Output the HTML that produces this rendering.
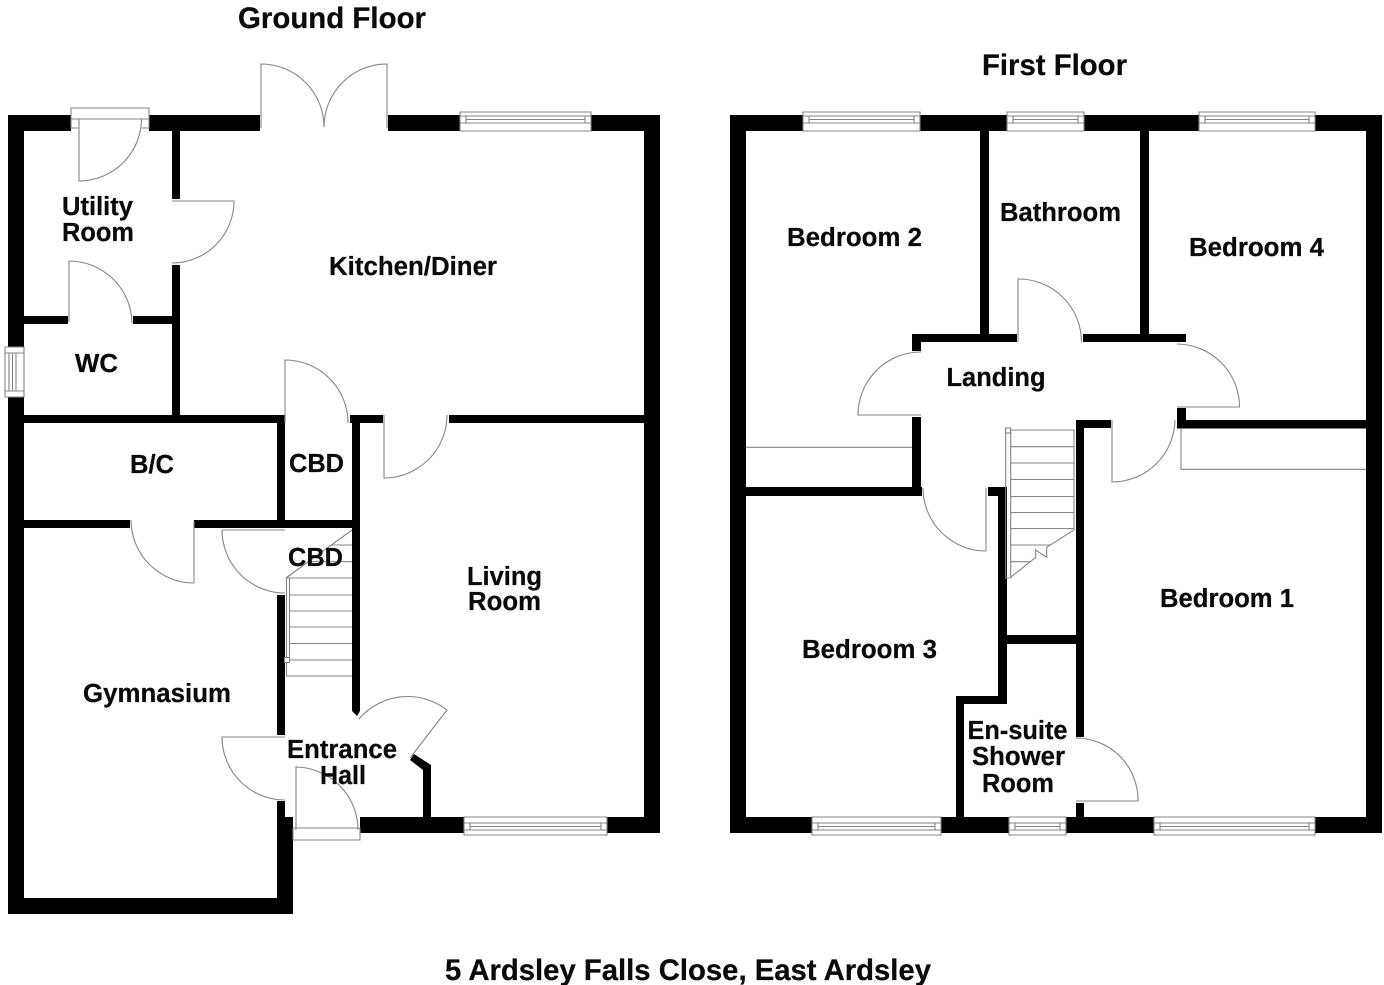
<!DOCTYPE html>
<html><head><meta charset="utf-8"><title>Floor plan</title>
<style>html,body{margin:0;padding:0;background:#fff}svg{display:block}
text{font-family:"Liberation Sans",Arial,sans-serif;font-weight:bold;fill:#0a0a0a;font-size:25.5px;stroke:#0a0a0a;stroke-width:.25}
.t{font-size:29.5px}
.l{fill:none;stroke:#858585;stroke-width:1.1}
</style></head><body>
<svg width="1384" height="985" viewBox="0 0 1384 985" xmlns="http://www.w3.org/2000/svg">
<g fill="#000">
<!-- Ground floor walls -->
<rect x="8" y="115" width="16" height="232"/>
<rect x="8" y="397" width="16" height="517"/>
<rect x="8" y="115" width="63" height="16"/>
<rect x="149" y="115" width="111" height="16"/>
<rect x="388" y="115" width="72" height="16"/>
<rect x="591" y="115" width="69" height="16"/>
<rect x="644" y="115" width="16" height="718"/>
<rect x="607" y="817" width="53" height="16"/>
<rect x="360" y="817" width="104" height="16"/>
<rect x="8" y="898" width="285" height="16"/>
<rect x="285" y="817" width="8" height="97"/>
<rect x="277" y="801" width="8" height="113"/>
<rect x="172" y="131" width="8" height="68"/>
<rect x="172" y="265" width="8" height="158"/>
<rect x="24" y="316" width="44" height="8"/>
<rect x="133" y="316" width="39" height="8"/>
<rect x="24" y="415" width="260" height="8"/>
<rect x="277" y="415" width="8" height="113"/>
<rect x="24" y="520" width="106" height="8"/>
<rect x="194" y="520" width="166" height="8"/>
<rect x="277" y="595" width="8" height="140"/>
<rect x="350" y="415" width="33" height="8"/>
<rect x="449" y="415" width="195" height="8"/>
<polygon points="352,415 360,415 360,711 357,716 352,711"/>
<polygon points="431,817 431,765 414,754 410,760 423,770 423,817"/>
<!-- First floor walls -->
<rect x="730" y="115" width="16" height="718"/>
<rect x="730" y="115" width="73" height="16"/>
<rect x="920" y="115" width="87" height="16"/>
<rect x="1084" y="115" width="115" height="16"/>
<rect x="1315" y="115" width="67" height="16"/>
<rect x="1366" y="115" width="16" height="718"/>
<rect x="730" y="817" width="82" height="16"/>
<rect x="941" y="817" width="68" height="16"/>
<rect x="1066" y="817" width="88" height="16"/>
<rect x="1315" y="817" width="67" height="16"/>
<rect x="980" y="131" width="9" height="204"/>
<rect x="1140" y="131" width="9" height="204"/>
<rect x="912" y="334" width="105" height="8"/>
<rect x="1083" y="334" width="103" height="8"/>
<rect x="912" y="334" width="9" height="17"/>
<rect x="912" y="417" width="9" height="79"/>
<rect x="746" y="487" width="176" height="9"/>
<rect x="988" y="487" width="18" height="9"/>
<rect x="998" y="487" width="9" height="217"/>
<rect x="956" y="696" width="51" height="8"/>
<rect x="956" y="696" width="8" height="121"/>
<rect x="1006" y="635" width="70" height="9"/>
<rect x="1076" y="420" width="8" height="317"/>
<rect x="1076" y="803" width="8" height="14"/>
<rect x="1076" y="420" width="35" height="8"/>
<rect x="1177" y="408" width="9" height="20"/>
<rect x="1177" y="420" width="189" height="8.5"/>
</g>
<g class="l">
<!-- Ground floor windows -->
<path d="M460 112H591V131H460Z M466 116H585V123H466Z M466 119.5H585 M460 116H466 M585 116H591 M460 123H466 M585 123H591"/>
<path d="M464 835H607V817H464Z M470 830H601V823H470Z M470 826.5H601 M464 830H470 M601 830H607 M464 823H470 M601 823H607"/>
<path d="M5 347V397H24V347Z M9 353V391H16V353Z M12.500 353V391 M5 353H9 M5 391H9 M16 353H24 M16 391H24"/>
<!-- Ground doors -->
<path d="M71 108H149V119H71Z M71 119V128H79 M149 119V128H142"/>
<path d="M79 119V181A62.500 62.500 0 0 0 141.500 119"/>
<path d="M261 128V64A63 63 0 0 1 324 127"/>
<path d="M387 128V64A63 63 0 0 0 324 127"/>
<path d="M172 201H234A62 62 0 0 1 172 263"/>
<path d="M69 322V261A63 63 0 0 1 132 323"/>
<path d="M285 423V360A63 63 0 0 1 348 423"/>
<path d="M384 415V478A63 63 0 0 0 447 415"/>
<path d="M194 521V583A63 63 0 0 1 131 520"/>
<path d="M285 530H222A63 63 0 0 0 285 593"/>
<path d="M285 737H222A63 63 0 0 0 285 800"/>
<path d="M296 830V767A63 63 0 0 1 358 830"/>
<path d="M293 828H360V840H293Z"/>
<path d="M410 758L447 710A64 64 0 0 0 359 719"/>
<!-- Ground stairs -->
<path d="M286.500 578V676H352 M289.500 578V660 M286 578L352 530 M286 578H352 M289 595H352 M289 611H352 M289 627H352 M289 643.500H352 M289 660H352 M331 545H352 M309 561.700H352"/>
<rect x="284.500" y="657.500" width="5" height="5" fill="#fff"/>
<!-- First floor windows -->
<path d="M803 112H920V131H803Z M809 116H914V123H809Z M809 119.500H914 M803 116H809 M914 116H920 M803 123H809 M914 123H920"/>
<path d="M1007 112H1084V131H1007Z M1013 116H1078V123H1013Z M1013 119.500H1078 M1007 116H1013 M1078 116H1084 M1007 123H1013 M1078 123H1084"/>
<path d="M1199 112H1315V131H1199Z M1205 116H1309V123H1205Z M1205 119.500H1309 M1199 116H1205 M1309 116H1315 M1199 123H1205 M1309 123H1315"/>
<path d="M812 835H941V817H812Z M818 830H935V823H818Z M818 826.500H935 M812 830H818 M935 830H941 M812 823H818 M935 823H941"/>
<path d="M1009 835H1066V817H1009Z M1015 830H1060V823H1015Z M1015 826.500H1060 M1009 830H1015 M1060 830H1066 M1009 823H1015 M1060 823H1066"/>
<path d="M1154 835H1315V817H1154Z M1160 830H1309V823H1160Z M1160 826.500H1309 M1154 830H1160 M1309 830H1315 M1154 823H1160 M1309 823H1315"/>
<!-- First floor doors -->
<path d="M1018 342V279A63 63 0 0 1 1081.500 342"/>
<path d="M921 415H858A63 63 0 0 1 921 352"/>
<path d="M1177 407H1239.500A63 63 0 0 0 1177 344"/>
<path d="M1112 420V482A63 63 0 0 0 1175 420"/>
<path d="M986 488V551A63 63 0 0 1 923 488"/>
<path d="M1076 801H1138A62 62 0 0 0 1076 738"/>
<!-- Cupboards -->
<path d="M746 447.300H912"/>
<path d="M1181 428V469.300H1366"/>
<!-- First stairs -->
<path d="M1005.700 430V578H1010.700V430 M1005.700 430H1074V530L1046.700 547.300V557.300L1035.700 550V557.300L1010.700 577.300 M1010.700 446.700H1074 M1010.700 463H1074 M1010.700 479.500H1074 M1010.700 496.500H1074 M1010.700 512.500H1074 M1010.700 528.500H1074 M1010.700 545H1051 M1010.700 561.700H1031"/>
<rect x="1005.500" y="428" width="5" height="5" fill="#fff"/>
</g>
<!-- Titles -->
<text class="t" x="238" y="28" textLength="188" lengthAdjust="spacingAndGlyphs">Ground Floor</text>
<text class="t" x="982" y="75" textLength="145" lengthAdjust="spacingAndGlyphs">First Floor</text>
<text class="t" x="445" y="980" textLength="486" lengthAdjust="spacingAndGlyphs">5 Ardsley Falls Close, East Ardsley</text>
<!-- Ground labels -->
<text x="62" y="215" textLength="71" lengthAdjust="spacingAndGlyphs">Utility</text>
<text x="62" y="241" textLength="72" lengthAdjust="spacingAndGlyphs">Room</text>
<text x="75" y="372" textLength="43" lengthAdjust="spacingAndGlyphs">WC</text>
<text x="329" y="275" textLength="168" lengthAdjust="spacingAndGlyphs">Kitchen/Diner</text>
<text x="130" y="473" textLength="44" lengthAdjust="spacingAndGlyphs">B/C</text>
<text x="289" y="472" textLength="55" lengthAdjust="spacingAndGlyphs">CBD</text>
<text x="288" y="566" textLength="55" lengthAdjust="spacingAndGlyphs">CBD</text>
<text x="467" y="585" textLength="75" lengthAdjust="spacingAndGlyphs">Living</text>
<text x="468" y="610" textLength="73" lengthAdjust="spacingAndGlyphs">Room</text>
<text x="83" y="702" textLength="148" lengthAdjust="spacingAndGlyphs">Gymnasium</text>
<text x="287" y="758" textLength="110" lengthAdjust="spacingAndGlyphs">Entrance</text>
<text x="320" y="784" textLength="46" lengthAdjust="spacingAndGlyphs">Hall</text>
<!-- First labels -->
<text x="787" y="246" textLength="135" lengthAdjust="spacingAndGlyphs">Bedroom 2</text>
<text x="1000" y="221" textLength="121" lengthAdjust="spacingAndGlyphs">Bathroom</text>
<text x="1189" y="256" textLength="135" lengthAdjust="spacingAndGlyphs">Bedroom 4</text>
<text x="946.500" y="386" textLength="99" lengthAdjust="spacingAndGlyphs">Landing</text>
<text x="1160" y="607" textLength="134" lengthAdjust="spacingAndGlyphs">Bedroom 1</text>
<text x="802" y="658" textLength="135" lengthAdjust="spacingAndGlyphs">Bedroom 3</text>
<text x="967.500" y="739" textLength="100" lengthAdjust="spacingAndGlyphs">En-suite</text>
<text x="972" y="765" textLength="93" lengthAdjust="spacingAndGlyphs">Shower</text>
<text x="982" y="792" textLength="72" lengthAdjust="spacingAndGlyphs">Room</text>
</svg>
</body></html>
